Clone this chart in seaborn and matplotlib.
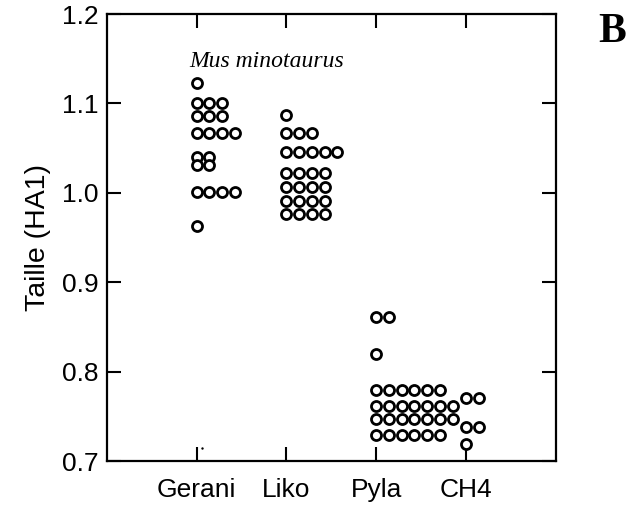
import numpy as np
import pandas as pd
import seaborn as sns
import matplotlib.pyplot as plt

# categories on the x axis
sites = ['Gerani', 'Liko', 'Pyla', 'CH4']

gerani = [1.123, 1.101, 1.101, 1.101, 1.086, 1.086, 1.086,
          1.067, 1.067, 1.067, 1.067, 1.040, 1.040, 1.031, 1.031,
          1.001, 1.001, 1.001, 1.001, 0.963]
liko = [1.087, 1.067, 1.067, 1.067, 1.046, 1.046, 1.046, 1.046, 1.046,
        1.022, 1.022, 1.022, 1.022, 1.006, 1.006, 1.006, 1.006,
        0.991, 0.991, 0.991, 0.991, 0.976, 0.976, 0.976, 0.976]
pyla = [0.861, 0.861, 0.820,
        0.779, 0.779, 0.779, 0.779, 0.779, 0.779,
        0.761, 0.761, 0.761, 0.761, 0.761, 0.761, 0.761,
        0.747, 0.747, 0.747, 0.747, 0.747, 0.747, 0.747,
        0.729, 0.729, 0.729, 0.729, 0.729, 0.729]
ch4 = [0.770, 0.770, 0.738, 0.738, 0.719]

# stray mark next to the Gerani tick
stray_x = [0.06]
stray_y = [0.7145]

yticks = [0.7, 0.8, 0.9, 1.0, 1.1, 1.2]

DOT_STEP = 0.142  # horizontal spacing between stacked dots


def dot_table(groups):
    '''Build a long table; equal values in a group are laid side by side.'''
    rows = []
    for i, vals in enumerate(groups):
        seen = {}
        for v in vals:
            k = seen.get(v, 0)
            seen[v] = k + 1
            rows.append({'site': sites[i], 'x': i + k * DOT_STEP, 'value': v})
    return pd.DataFrame(rows)


df = dot_table([gerani, liko, pyla, ch4])

sns.set_style('ticks')
plt.rcParams['font.family'] = ['Liberation Sans', 'DejaVu Sans']
plt.rcParams['text.color'] = 'black'

fig = plt.figure(figsize=(6.33, 5.08), dpi=100)
ax = fig.add_axes([0.1686, 0.0925, 0.7093, 0.8799])

sns.scatterplot(data=df, x='x', y='value', ax=ax, s=52, marker='o',
                facecolor='white', edgecolor='black', linewidth=2.0,
                legend=False, zorder=3)
ax.scatter(stray_x, stray_y, s=3, color='black', linewidths=0)

ax.set_xlim(-1, 4)
ax.set_ylim(0.7, 1.2)
ax.set_xticks(range(len(sites)))
ax.set_xticklabels(sites)
ax.set_yticks(yticks)
ax.set_yticklabels([f'{t:.1f}' for t in yticks])
ax.set_xlabel('')
ax.set_ylabel('Taille (HA1)', fontsize=20.5, labelpad=8, color='black')

ax.tick_params(direction='in', length=10, width=1.5, labelsize=19,
               top=True, right=True, color='black', labelcolor='black')
ax.tick_params(axis='x', pad=12)
ax.tick_params(axis='y', pad=6)
for sp in ax.spines.values():
    sp.set_visible(True)
    sp.set_linewidth(1.6)
    sp.set_color('black')

ax.text(0.776, 1.147, 'Mus minotaurus', fontsize=17, style='italic',
        color='black', family=['Liberation Serif', 'DejaVu Serif'],
        ha='center', va='center')
fig.text(0.967, 0.937, 'B', fontsize=30, fontweight='bold', color='black',
         family=['Liberation Serif', 'DejaVu Serif'], ha='center', va='center')

fig.savefig('out.png', dpi=100)
